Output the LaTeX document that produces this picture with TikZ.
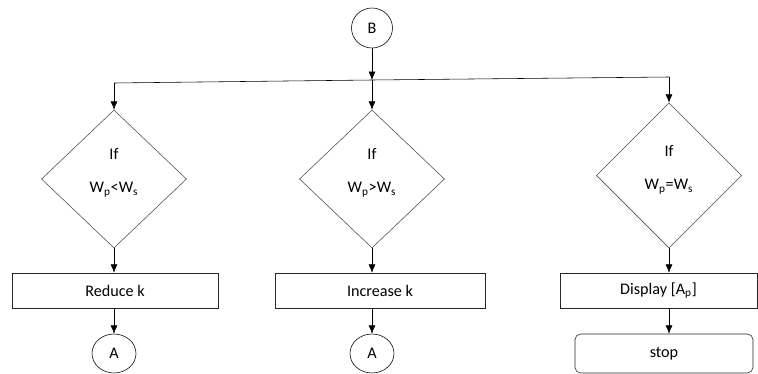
\documentclass[tikz,border=0pt]{standalone}
\usepackage{fontspec}
\setmainfont{Carlito}
\usetikzlibrary{shapes.geometric,arrows.meta}

\tikzset{
  decision/.style={diamond, draw=black!70, minimum width=3.625cm, minimum height=3.45cm, inner sep=0pt, align=center},
  process/.style={rectangle, draw=black!85, minimum height=0.875cm, inner sep=0pt},
  terminal/.style={rectangle, rounded corners=4pt, draw=black!85, minimum width=4.45cm, minimum height=0.975cm},
  connector/.style={ellipse, draw, inner sep=0pt},
  flow/.style={-{Latex[length=6pt,width=5pt]}},
}

\begin{document}
\begin{tikzpicture}[x=0.025cm, y=-0.025cm, font=\fontsize{11.5}{13.8}\selectfont]
        \useasboundingbox (0,0) rectangle (758,374);

        % top connector and branch line
        \node[connector, minimum width=1.025cm, minimum height=1cm] (b) at (372,28) {B};
        \coordinate (jl) at (114,83);
        \coordinate (jm) at (372,80);
        \coordinate (jr) at (669,77);

        % decisions
        \node[decision] (d1) at (114,179) {If\\[10pt]W\textsubscript{p}<W\textsubscript{s}\\[-2pt]};
        \node[decision] (d2) at (372,179) {If\\[10pt]W\textsubscript{p}>W\textsubscript{s}\\[-2pt]};
        \node[decision, minimum height=3.625cm] (d3) at (669,175.5) {If\\[10pt]W\textsubscript{p}=W\textsubscript{s}\\[-2pt]};

        % actions
        \node[process, minimum width=5.15cm] (r1) at (115,290.5) {Reduce k};
        \node[process, minimum width=5.25cm] (r2) at (380,290.5) {Increase k};
        \node[process, minimum width=4.925cm] (r3) at (658.5,290.5) {Display [A\textsubscript{p}]};

        % ends
        \node[connector, minimum width=1.1cm, minimum height=0.975cm] (a1) at (114,353.5) {A};
        \node[connector, minimum width=1.1cm, minimum height=0.975cm] (a2) at (372,353.5) {A};
        \node[terminal] (stop) at (664,353.5) {stop};

        \draw[flow] (b) -- (jm);
        \draw (jl) -- (jm) -- (jr);
        \draw[flow] (jl) -- (d1.north);
        \draw[flow] (jm) -- (d2.north);
        \draw[flow] (jr) -- (d3.north);

        \draw[flow] (d1.south) -- (d1.south |- r1.north);
        \draw[flow] (d2.south) -- (d2.south |- r2.north);
        \draw[flow] (d3.south) -- (d3.south |- r3.north);

        \draw[flow] (r1.south -| a1) -- (a1.north);
        \draw[flow] (r2.south -| a2) -- (a2.north);
        \draw[flow] (d3 |- r3.south) -- (d3 |- stop.north);
\end{tikzpicture}
\end{document}
